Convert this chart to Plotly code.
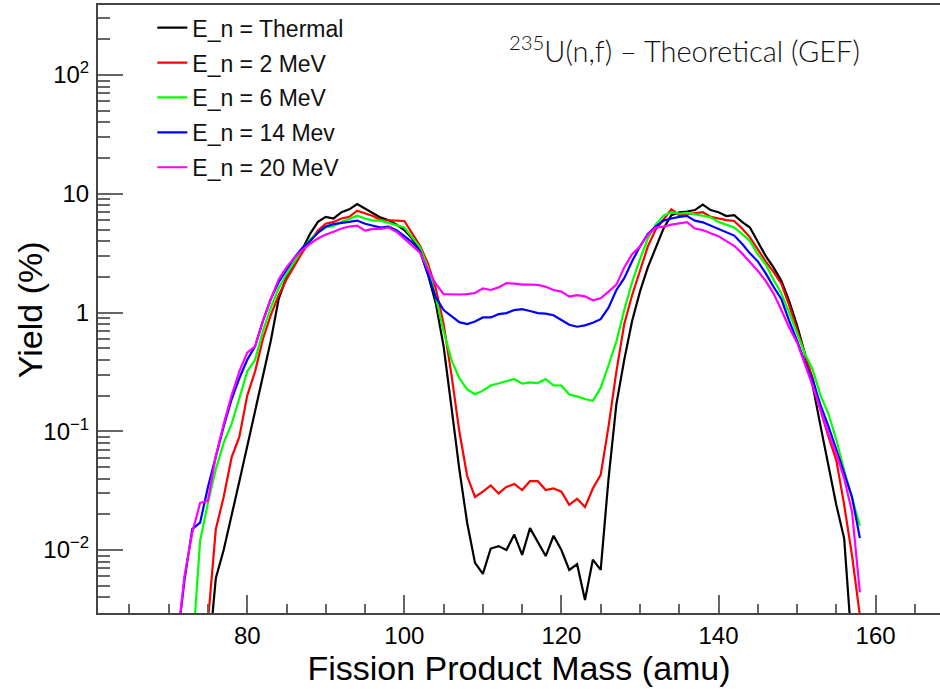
import plotly.graph_objects as go

# ---------------- data (fission product yields, %) ----------------
series_names = ["E_n = Thermal", "E_n = 2 MeV", "E_n = 6 MeV", "E_n = 14 Mev", "E_n = 20 MeV"]
series_colors = ["#000000", "#ff0000", "#00ff00", "#0000ff", "#ff00ff"]

thermal_start = 75
thermal_yield = [
    0.0011, 0.0058, 0.010, 0.019, 0.038, 0.075, 0.15, 0.30, 0.58, 1.3,
    2.0, 2.6, 3.4, 4.6, 5.8, 6.4, 6.2, 7.0, 7.4, 8.2,
    7.5, 6.9, 6.3, 6.0, 5.5, 4.95, 4.2, 3.3, 2.1, 1.2,
    0.52, 0.16, 0.048, 0.017, 0.0078, 0.0063, 0.0103, 0.0108, 0.0100, 0.0135,
    0.0091, 0.0153, 0.0118, 0.0089, 0.0132, 0.0100, 0.0068, 0.0076, 0.0038, 0.0083,
    0.0068, 0.040, 0.17, 0.40, 0.85, 1.5, 2.4, 3.5, 5.1, 6.6,
    7.0, 7.1, 7.3, 8.1, 7.3, 7.0, 6.5, 6.6, 5.8, 5.2,
    3.9, 3.0, 2.4, 1.85, 1.25, 0.78, 0.45, 0.24, 0.11, 0.05,
    0.024, 0.0125, 0.0015,
]

mev2_start = 75
mev2_yield = [
    0.0025, 0.015, 0.028, 0.06, 0.09, 0.2, 0.32, 0.6, 0.95, 1.4,
    1.9, 2.5, 3.2, 4.0, 4.9, 5.6, 5.8, 6.2, 6.4, 7.2,
    6.8, 6.5, 6.0, 6.0, 5.95, 5.9, 4.7, 3.65, 2.6, 1.6,
    0.8, 0.3, 0.1, 0.042, 0.028, 0.031, 0.035, 0.030, 0.034, 0.036,
    0.032, 0.038, 0.038, 0.032, 0.033, 0.031, 0.024, 0.027, 0.023, 0.033,
    0.043, 0.11, 0.32, 0.8, 1.4, 2.3, 3.6, 5.0, 6.15, 7.4,
    6.6, 6.7, 6.8, 7.0, 6.4, 6.15, 6.0, 5.9, 5.1, 4.3,
    3.4, 2.7, 2.2, 1.75, 1.15, 0.72, 0.45, 0.28, 0.15, 0.09,
    0.057, 0.024, 0.009, 0.0028,
]

mev6_start = 73
mev6_yield = [
    0.0013, 0.012, 0.025, 0.048, 0.08, 0.115, 0.19, 0.32, 0.40, 0.70,
    1.1, 1.6, 2.1, 2.7, 3.4, 4.15, 4.7, 5.2, 5.35, 5.8,
    6.2, 6.55, 6.2, 5.95, 5.95, 5.7, 5.45, 5.2, 4.3, 3.55,
    2.4, 1.35, 0.7, 0.4, 0.28, 0.225, 0.205, 0.22, 0.243, 0.255,
    0.264, 0.276, 0.252, 0.258, 0.255, 0.276, 0.243, 0.243, 0.204, 0.197,
    0.187, 0.181, 0.232, 0.36, 0.57, 1.05, 1.8, 2.8, 4.2, 5.5,
    6.55, 7.0, 6.8, 6.9, 6.7, 6.45, 6.35, 5.8, 5.45, 5.2,
    4.6, 4.0, 3.1, 2.55, 1.9, 1.45, 1.0, 0.66, 0.45, 0.33,
    0.2, 0.14, 0.085, 0.047, 0.028, 0.016,
]

mev14_start = 71
mev14_yield = [
    0.0015, 0.0055, 0.015, 0.017, 0.034, 0.062, 0.11, 0.185, 0.28, 0.40,
    0.52, 0.85, 1.3, 1.8, 2.3, 2.9, 3.5, 4.0, 4.7, 5.3,
    5.55, 5.7, 5.8, 5.95, 5.6, 5.4, 5.2, 5.3, 4.95, 4.4,
    3.9, 3.3, 2.1, 1.35, 1.05, 0.94, 0.83, 0.80, 0.84, 0.91,
    0.91, 0.97, 0.99, 1.05, 1.07, 1.03, 0.99, 0.98, 0.95, 0.865,
    0.79, 0.76, 0.78, 0.82, 0.88, 1.1, 1.55, 1.95, 2.7, 3.6,
    4.6, 5.3, 5.95, 6.2, 6.4, 6.5, 5.95, 5.75, 5.4, 5.1,
    4.8, 4.45, 3.8, 3.15, 2.7, 2.15, 1.65, 1.3, 0.85, 0.58,
    0.38, 0.27, 0.165, 0.11, 0.07, 0.045, 0.028, 0.0126,
]

mev20_start = 71
mev20_yield = [
    0.0015, 0.006, 0.014, 0.025, 0.026, 0.062, 0.115, 0.2, 0.32, 0.46,
    0.52, 0.85, 1.3, 1.9, 2.4, 2.9, 3.35, 3.8, 4.2, 4.55,
    4.8, 5.1, 5.3, 5.4, 4.9, 5.06, 5.06, 5.2, 4.8, 4.2,
    3.7, 3.2, 2.3, 1.75, 1.43, 1.42, 1.42, 1.43, 1.46, 1.60,
    1.55, 1.63, 1.77, 1.75, 1.72, 1.72, 1.71, 1.65, 1.55, 1.50,
    1.36, 1.40, 1.37, 1.27, 1.32, 1.5, 1.72, 2.4, 3.1, 3.6,
    4.5, 5.2, 5.3, 5.5, 5.65, 5.76, 5.1, 4.95, 4.65, 4.4,
    4.0, 3.65, 3.15, 2.65, 2.25, 1.85, 1.45, 1.05, 0.75, 0.56,
    0.37, 0.24, 0.15, 0.095, 0.065, 0.04, 0.021, 0.0044,
]

starts = [thermal_start, mev2_start, mev6_start, mev14_start, mev20_start]
yields = [thermal_yield, mev2_yield, mev6_yield, mev14_yield, mev20_yield]

y_tick_vals = [0.01, 0.1, 1, 10, 100]
y_tick_text = ["10<sup>\u22122</sup>", "10<sup>\u22121</sup>", "1", "10", "10<sup>2</sup>"]

# ---------------- figure ----------------
FONT = "Liberation Sans, Arial, Helvetica, sans-serif"
fig = go.Figure()
for i, (name, col, s, ys) in enumerate(zip(series_names, series_colors, starts, yields)):
    fig.add_trace(go.Scatter(
        x=list(range(s, s + len(ys))), y=ys, mode="lines", name=name,
        line=dict(color=col, width=2.2), legendgroup=f"g{i}",
    ))

minor_vals = [m * 10.0 ** e for e in range(-3, 3) for m in range(2, 10)]

fig.update_layout(
    width=940, height=689,
    margin=dict(l=98, r=0, t=5, b=76, autoexpand=False),
    paper_bgcolor="white", plot_bgcolor="white",
    font=dict(family=FONT, color="#000000"),
    showlegend=True,
    legend=dict(
        x=0.0645, y=0.998, xanchor="left", yanchor="top",
        font=dict(family=FONT, size=23, color="#111111"),
        bgcolor="rgba(255,255,255,0)", borderwidth=0,
        tracegroupgap=2, traceorder="grouped",
    ),
    xaxis=dict(
        range=[61.0, 168.2], showgrid=False, zeroline=False, automargin=False,
        showline=True, linecolor="#444444", linewidth=2, mirror=True,
        tickmode="linear", tick0=80, dtick=20,
        ticks="inside", ticklen=18, tickwidth=1.5, tickcolor="#666666",
        minor=dict(ticks="inside", ticklen=9, tickwidth=1.5, tickcolor="#666666", dtick=5, tick0=80, showgrid=False),
        tickfont=dict(family=FONT, size=24, color="#000000"),
        ticklabelstandoff=0,
        title=dict(text="Fission Product Mass (amu)", font=dict(family=FONT, size=34, color="#000000"), standoff=6),
    ),
    yaxis=dict(
        type="log", range=[-2.53, 2.59], showgrid=False, zeroline=False, automargin=False,
        showline=True, linecolor="#444444", linewidth=2, mirror=False,
        tickmode="array", tickvals=y_tick_vals, ticktext=y_tick_text,
        ticks="inside", ticklen=25, tickwidth=1.5, tickcolor="#666666",
        minor=dict(ticks="inside", ticklen=12, tickwidth=1.5, tickcolor="#666666",
                   tickmode="array", tickvals=minor_vals, showgrid=False),
        tickfont=dict(family=FONT, size=24, color="#000000"),
        ticklabelstandoff=2,
    ),
    annotations=[
        dict(
            text="<sup>235</sup>U(n,f) \u2013 Theoretical (GEF)",
            xref="paper", yref="paper", x=(507 - 98) / 842, y=(612.7 - 49) / 607.7,
            xanchor="left", yanchor="middle", showarrow=False,
            font=dict(family="Lato, Open Sans, sans-serif", size=29, color="#111111", weight=300),
        ),
        dict(
            text="Yield (%)", textangle=-90,
            xref="paper", yref="paper", x=(30 - 98) / 842, y=(612.7 - 310) / 607.7,
            xanchor="center", yanchor="middle", showarrow=False,
            font=dict(family=FONT, size=34, color="#000000"),
        ),
    ],
)

fig.write_html("out.html", config={"displayModeBar": False},
               post_script="document.body.style.margin='0px';")
